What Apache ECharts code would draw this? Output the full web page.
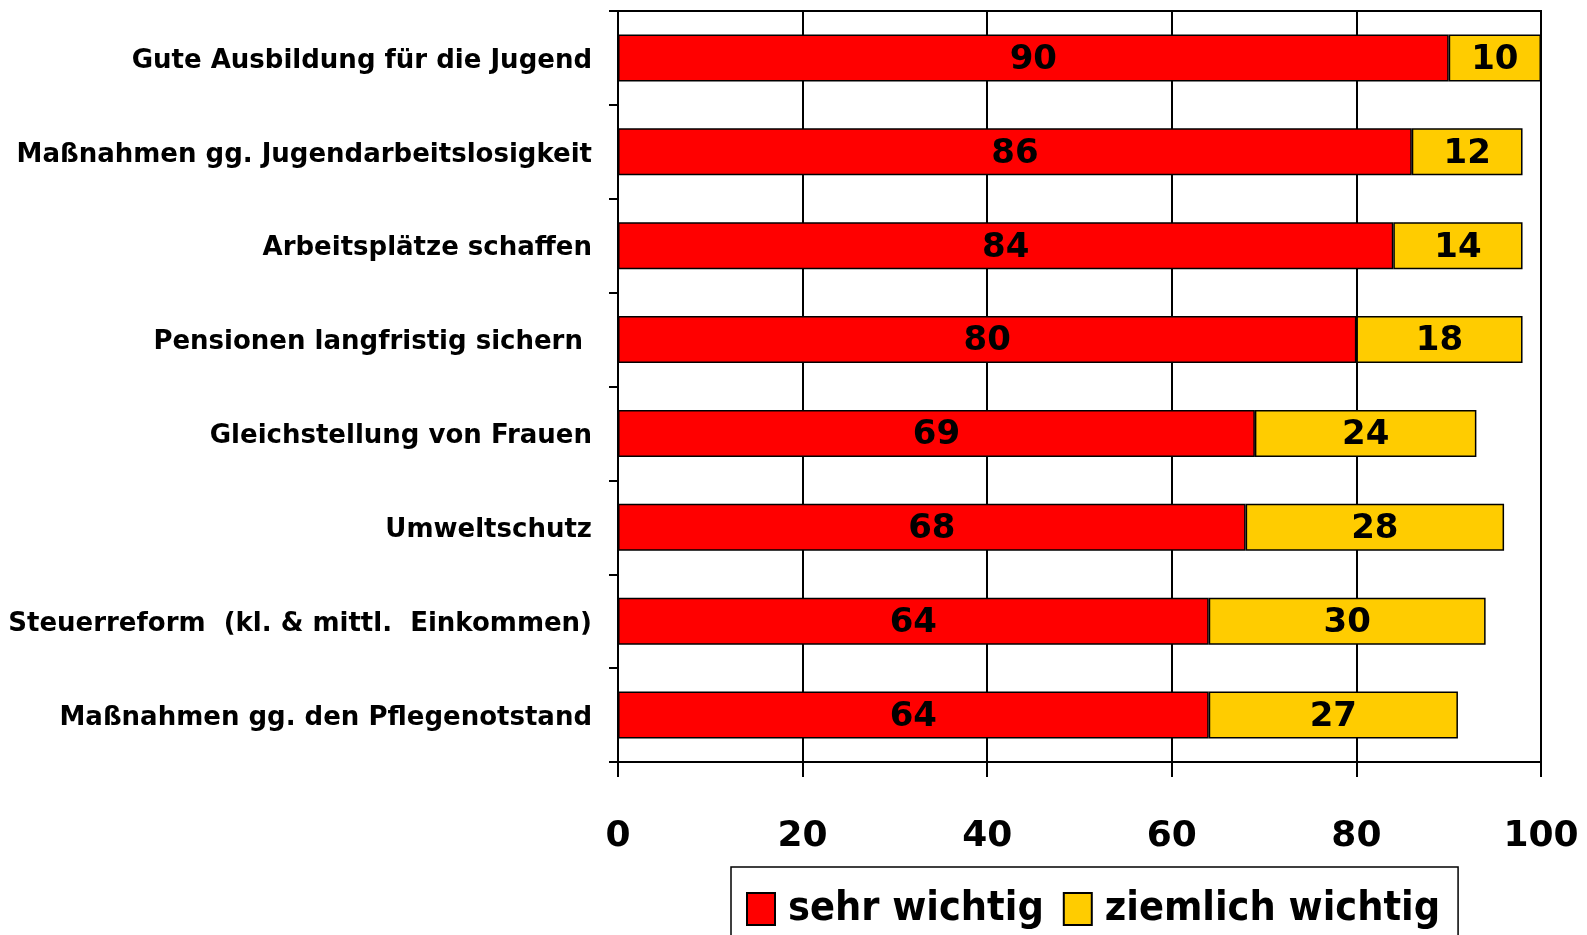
<!DOCTYPE html>
<html>
<head>
<meta charset="utf-8">
<script src="https://cdn.jsdelivr.net/npm/echarts@6/dist/echarts.min.js"></script>
<style>
  html, body { margin: 0; padding: 0; background: #fff; }
  #chart { width: 1587px; height: 935px; }
</style>
</head>
<body>
<div id="chart"></div>
<script>
// categories, top to bottom
const categories = [
  'Gute Ausbildung für die Jugend',
  'Maßnahmen gg. Jugendarbeitslosigkeit',
  'Arbeitsplätze schaffen',
  'Pensionen langfristig sichern ',
  'Gleichstellung von Frauen',
  'Umweltschutz',
  'Steuerreform  (kl. & mittl.  Einkommen)',
  'Maßnahmen gg. den Pflegenotstand'
];
const sehrWichtig = [90, 86, 84, 80, 69, 68, 64, 64];
const ziemlichWichtig = [10, 12, 14, 18, 24, 28, 30, 27];
const xTicks = [0, 20, 40, 60, 80, 100];

const chart = echarts.init(document.getElementById('chart'));

const labelFont = 'DejaVu Sans';

const option = {
  animation: false,
  backgroundColor: '#fff',
  grid: {
    left: 618, right: 46, top: 11, bottom: 173,
    show: true, borderColor: '#000', borderWidth: 2, backgroundColor: 'transparent'
  },
  legend: {
    left: 731, top: 867,
    padding: [16, 18, 40, 15],
    icon: 'rect',
    itemWidth: 28, itemHeight: 32, itemGap: 19,
    borderColor: '#000', borderWidth: 1.5,
    textStyle: {
      fontFamily: "'DejaVu Sans Condensed', 'Liberation Sans Narrow', 'Liberation Sans', sans-serif",
      fontWeight: 'bold', fontSize: 41,
      color: '#000', lineHeight: 48, padding: [4, 0, 0, 8]
    },
    data: ['sehr wichtig', 'ziemlich wichtig']
  },
  xAxis: {
    type: 'value',
    min: 0, max: 100, interval: 20,
    axisLine: { show: true, lineStyle: { color: '#000', width: 2 } },
    axisTick: { show: true, length: 15, lineStyle: { color: '#000', width: 2 } },
    splitLine: { show: true, lineStyle: { color: '#000', width: 2 } },
    axisLabel: {
      margin: 57, color: '#000', fontFamily: labelFont, fontWeight: 'bold', fontSize: 36,
      formatter: v => xTicks.includes(v) ? String(v) : ''
    }
  },
  yAxis: {
    type: 'category',
    inverse: true,
    data: categories,
    axisLine: { show: true, lineStyle: { color: '#000', width: 2 } },
    axisTick: { show: true, length: 9, lineStyle: { color: '#000', width: 2 } },
    axisLabel: {
      margin: 26,
      formatter: v => '{c|' + v + '}',
      rich: {
        c: {
          color: '#000', fontFamily: labelFont, fontWeight: 'bold', fontSize: 26,
          padding: [6, 0, 0, 0]
        }
      }
    }
  },
  series: [
    {
      name: 'sehr wichtig',
      type: 'bar',
      stack: 'total',
      barWidth: '50%',
      data: sehrWichtig,
      itemStyle: { color: '#ff0000', borderColor: '#000', borderWidth: 1.5 },
      label: {
        show: true, position: 'inside', color: '#000', offset: [0, 2],
        fontFamily: labelFont, fontWeight: 'bold', fontSize: 34
      }
    },
    {
      name: 'ziemlich wichtig',
      type: 'bar',
      stack: 'total',
      barWidth: '50%',
      data: ziemlichWichtig,
      itemStyle: { color: '#ffcc00', borderColor: '#000', borderWidth: 1.5 },
      label: {
        show: true, position: 'inside', color: '#000', offset: [0, 2],
        fontFamily: labelFont, fontWeight: 'bold', fontSize: 34
      }
    }
  ]
};

chart.setOption(option);
</script>
</body>
</html>
